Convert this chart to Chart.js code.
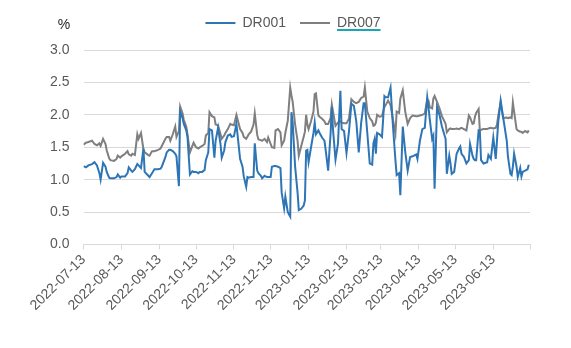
<!DOCTYPE html>
<html><head><meta charset="utf-8">
<script src="https://cdn.jsdelivr.net/npm/chart.js@4/dist/chart.umd.min.js"></script>
<style>html,body{margin:0;padding:0;background:#fff}canvas{display:block}</style>
</head><body>
<canvas id="c" width="571" height="348"></canvas>
<script>
const dates = [
'2022-07-13','2022-07-15','2022-07-17','2022-07-20','2022-07-22','2022-07-24','2022-07-26','2022-07-27','2022-07-29','2022-07-31',
'2022-08-01','2022-08-03','2022-08-04','2022-08-07','2022-08-09','2022-08-10','2022-08-12','2022-08-13','2022-08-16','2022-08-18',
'2022-08-19','2022-08-21','2022-08-22','2022-08-24','2022-08-26','2022-08-27','2022-08-29','2022-08-31','2022-09-01','2022-09-04',
'2022-09-05','2022-09-07','2022-09-09','2022-09-12','2022-09-14','2022-09-15','2022-09-18','2022-09-19','2022-09-21','2022-09-22',
'2022-09-24','2022-09-26','2022-09-27','2022-09-29','2022-09-30','2022-10-02','2022-10-03','2022-10-05','2022-10-06','2022-10-08',
'2022-10-10','2022-10-11','2022-10-13','2022-10-15','2022-10-16','2022-10-18','2022-10-20','2022-10-21','2022-10-23','2022-10-24',
'2022-10-26','2022-10-28','2022-10-29','2022-10-31','2022-11-02','2022-11-03','2022-11-05','2022-11-06','2022-11-08','2022-11-10',
'2022-11-11','2022-11-13','2022-11-15','2022-11-18','2022-11-20','2022-11-21','2022-11-23','2022-11-24','2022-11-25','2022-11-27',
'2022-11-29','2022-11-30','2022-12-02','2022-12-03','2022-12-05','2022-12-06','2022-12-08','2022-12-10','2022-12-11','2022-12-13',
'2022-12-14','2022-12-16','2022-12-17','2022-12-19','2022-12-21','2022-12-22','2022-12-24','2022-12-25','2022-12-27','2022-12-29',
'2022-12-30','2022-12-31','2023-01-02','2023-01-04','2023-01-05','2023-01-07','2023-01-09','2023-01-10','2023-01-11','2023-01-12',
'2023-01-13','2023-01-15','2023-01-17','2023-01-18','2023-01-19','2023-01-21','2023-01-22','2023-01-24','2023-01-26','2023-01-27',
'2023-01-29','2023-01-31','2023-02-01','2023-02-02','2023-02-04','2023-02-06','2023-02-08','2023-02-09','2023-02-11','2023-02-13',
'2023-02-15','2023-02-17','2023-02-19','2023-02-21','2023-02-23','2023-02-25','2023-02-27','2023-02-28','2023-03-02','2023-03-04',
'2023-03-06','2023-03-07','2023-03-08','2023-03-09','2023-03-10','2023-03-12','2023-03-14','2023-03-15','2023-03-16','2023-03-17',
'2023-03-19','2023-03-21','2023-03-23','2023-03-25','2023-03-26','2023-03-28','2023-03-29','2023-03-31','2023-04-02','2023-04-04',
'2023-04-06','2023-04-08','2023-04-11','2023-04-12','2023-04-14','2023-04-16','2023-04-18','2023-04-20','2023-04-21','2023-04-22',
'2023-04-24','2023-04-25','2023-04-26','2023-04-28','2023-04-30','2023-05-02','2023-05-05','2023-05-06','2023-05-08','2023-05-09',
'2023-05-10','2023-05-12','2023-05-14','2023-05-16','2023-05-17','2023-05-18','2023-05-20','2023-05-22','2023-05-24','2023-05-25',
'2023-05-27','2023-05-28','2023-05-29','2023-05-30','2023-06-01','2023-06-02','2023-06-03','2023-06-05','2023-06-08','2023-06-09',
'2023-06-11','2023-06-13','2023-06-15','2023-06-16','2023-06-17','2023-06-19','2023-06-21','2023-06-24','2023-06-25','2023-06-27',
'2023-06-28','2023-06-29','2023-06-30','2023-07-02','2023-07-03','2023-07-05','2023-07-06','2023-07-07','2023-07-09','2023-07-11',
'2023-07-12'
];
const dr001 = [
1.21,1.19,1.22,1.24,1.27,1.22,1.10,1.00,1.26,1.20,
1.12,1.03,1.02,1.02,1.04,1.08,1.03,1.05,1.05,1.10,
1.19,1.14,1.12,1.16,1.24,1.22,1.18,1.48,1.12,1.06,
1.04,1.10,1.16,1.16,1.17,1.20,1.35,1.42,1.46,1.46,
1.44,1.40,1.36,0.90,2.05,1.95,1.86,1.76,1.66,1.08,
1.13,1.12,1.12,1.10,1.12,1.12,1.15,1.30,1.42,1.78,
1.76,1.34,1.60,1.80,1.55,1.34,1.45,1.58,1.68,1.70,
1.66,1.67,1.86,1.32,1.20,1.05,0.89,1.04,1.03,1.04,
1.04,1.56,1.14,1.10,1.06,1.02,1.06,1.04,1.04,1.04,
1.20,1.21,1.21,1.20,1.18,0.80,0.56,0.74,0.50,0.43,
2.04,1.88,1.20,0.80,0.53,0.55,0.60,0.68,1.45,1.46,
1.27,1.50,1.72,1.88,1.70,1.76,1.72,1.65,1.60,1.45,
1.14,1.72,2.12,1.76,1.31,1.55,2.37,1.78,1.75,1.41,
1.74,2.17,2.14,1.90,1.42,1.88,2.18,2.18,1.72,1.25,
1.23,1.56,1.63,1.40,1.72,1.70,1.66,1.95,2.29,2.27,
2.27,2.42,1.82,1.30,1.07,1.10,0.76,1.82,1.43,1.14,
1.35,1.36,1.39,1.32,1.60,1.78,1.80,2.27,2.12,1.94,
1.63,1.68,0.86,2.12,2.00,1.82,1.63,1.09,1.37,1.25,
1.09,1.12,1.40,1.48,1.51,1.40,1.35,1.25,1.30,1.55,
1.37,1.32,1.30,1.30,1.76,1.75,1.30,1.25,1.27,1.38,
1.32,1.65,1.32,1.60,1.88,2.22,1.97,1.60,1.35,1.09,
1.07,1.20,1.40,1.20,1.04,1.18,1.05,1.12,1.14,1.16,
1.23
];
const dr007 = [
1.54,1.57,1.58,1.60,1.55,1.53,1.56,1.52,1.63,1.55,
1.45,1.33,1.30,1.29,1.32,1.37,1.34,1.36,1.40,1.44,
1.39,1.37,1.40,1.38,1.70,1.63,1.72,1.47,1.42,1.38,
1.37,1.44,1.44,1.46,1.48,1.52,1.63,1.66,1.66,1.60,
1.70,1.82,1.66,1.75,2.13,2.02,1.92,1.82,1.70,1.42,
1.52,1.57,1.50,1.48,1.50,1.52,1.55,1.68,1.72,2.04,
1.98,1.96,1.85,1.84,1.70,1.63,1.68,1.72,1.78,1.86,
1.85,1.84,2.00,1.78,1.72,1.66,1.63,1.66,1.70,1.74,
1.85,2.02,1.69,1.62,1.61,1.60,1.63,1.58,1.65,1.55,
1.50,1.49,1.76,1.78,1.73,1.53,1.60,1.72,1.91,2.42,
2.30,2.20,1.85,1.60,1.37,1.52,1.66,1.74,2.00,1.85,
1.78,1.90,2.05,2.32,2.33,1.99,1.97,1.94,1.90,1.86,
1.86,1.95,2.16,2.05,1.83,1.88,1.90,1.88,1.87,1.87,
1.94,2.24,2.20,2.18,2.20,2.26,2.28,2.42,2.05,1.95,
1.90,1.83,1.84,1.88,2.00,1.97,1.98,2.05,2.12,2.15,
2.22,2.15,1.92,1.71,2.05,2.03,2.25,2.38,2.05,1.86,
1.95,1.99,1.98,1.98,1.99,2.00,2.02,2.24,2.22,2.12,
2.10,2.25,2.29,2.20,2.10,1.98,1.86,1.73,1.78,1.79,
1.78,1.78,1.79,1.78,1.79,1.80,1.78,1.76,1.99,1.96,
1.86,1.87,1.97,2.03,2.09,1.76,1.77,1.78,1.78,1.79,
1.80,1.79,1.80,1.85,1.98,2.19,1.95,1.96,1.95,1.96,
1.95,2.19,2.05,1.78,1.76,1.74,1.74,1.72,1.75,1.73,
1.76
];
const tickDates = ['2022-07-13','2022-08-13','2022-09-13','2022-10-13','2022-11-13','2022-12-13',
  '2023-01-13','2023-02-13','2023-03-13','2023-04-13','2023-05-13','2023-06-13'];
const axisStart = '2022-07-13';
const axisEnd = '2023-07-13';
const seriesNames = ['DR001','DR007'];
const unitLabel = '%';

const T0 = (function(s){const p=s.split('-').map(Number);return Date.UTC(p[0],p[1]-1,p[2]);})(axisStart);
function dayOf(s){const p=s.split('-').map(Number);return Math.round((Date.UTC(p[0],p[1]-1,p[2])-T0)/86400000);}
const tickLabelMap = {};
tickDates.forEach(s=>{tickLabelMap[dayOf(s)]=s;});

const FONT = "'Liberation Sans', Arial, sans-serif";
const FS = 14;
const TXT = '#595959';
const GRID = '#D9D9D9';

const legendShift = {
  id:'legendShift',
  afterLayout(chart){
    const lg = chart.legend;
    if (!lg) return;
    const dx = 293 - (lg.left + lg.right) / 2;
    const dy = -10;
    lg.left += dx; lg.right += dx; lg.top += dy; lg.bottom += dy;
  }
};

const extras = {
  id:'extras',
  afterDraw(chart){
    const ctx = chart.ctx;
    ctx.save();
    ctx.fillStyle = '#262626';
    ctx.font = FS + 'px ' + FONT;
    ctx.textAlign = 'center';
    ctx.textBaseline = 'middle';
    ctx.fillText(unitLabel, 64, 25);
    const lg = chart.legend;
    if (lg && lg.legendHitBoxes && lg.legendHitBoxes[1]) {
      const hb = lg.legendHitBoxes[1];
      const tx = hb.left + 30 + FS / 2;
      const w = ctx.measureText(seriesNames[1]).width;
      const uy = hb.top + hb.height / 2 + 7;
      ctx.strokeStyle = '#19A7B8';
      ctx.lineWidth = 2;
      ctx.beginPath();
      ctx.moveTo(tx, uy);
      ctx.lineTo(tx + w, uy);
      ctx.stroke();
    }
    ctx.restore();
  }
};

new Chart(document.getElementById('c'), {
  type:'line',
  data:{
    datasets:[
      {label:seriesNames[0], data:dates.map((d,i)=>({x:dayOf(d), y:dr001[i]})), borderColor:'#2E75B6', backgroundColor:'#2E75B6', borderWidth:2, pointRadius:0, tension:0},
      {label:seriesNames[1], data:dates.map((d,i)=>({x:dayOf(d), y:dr007[i]})), borderColor:'#7F7F7F', backgroundColor:'#7F7F7F', borderWidth:2, pointRadius:0, tension:0}
    ]
  },
  options:{
    responsive:false, animation:false, devicePixelRatio:1,
    layout:{padding:{left:0, right:41, top:12, bottom:0}},
    plugins:{
      legend:{display:true, position:'top', align:'center',
        labels:{usePointStyle:true, pointStyle:'line', pointStyleWidth:30, boxHeight:14, padding:14, color:TXT, font:{family:FONT, size:FS}}},
      tooltip:{enabled:false}
    },
    scales:{
      x:{type:'linear', min:0, max:dayOf(axisEnd),
        afterBuildTicks:(s)=>{ s.ticks = tickDates.map(d=>({value:dayOf(d)})).concat([{value:dayOf(axisEnd)}]); },
        afterFit:(s)=>{ s.height = 103.5; },
        ticks:{autoSkip:false, maxRotation:45, minRotation:45, padding:2, color:TXT, font:{family:FONT, size:FS},
          callback:(v)=> tickLabelMap[v] || ''},
        grid:{display:true, drawOnChartArea:false, drawTicks:true, tickLength:5, color:GRID},
        border:{display:true, color:GRID, width:1}
      },
      y:{min:0, max:3,
        afterFit:(s)=>{ s.width = 83.5; },
        ticks:{stepSize:0.5, padding:14, color:TXT, font:{family:FONT, size:FS}, callback:(v)=>Number(v).toFixed(1)},
        grid:{color:GRID, lineWidth:1, drawTicks:false},
        border:{display:false}
      }
    }
  },
  plugins:[legendShift, extras]
});
</script>
</body></html>
